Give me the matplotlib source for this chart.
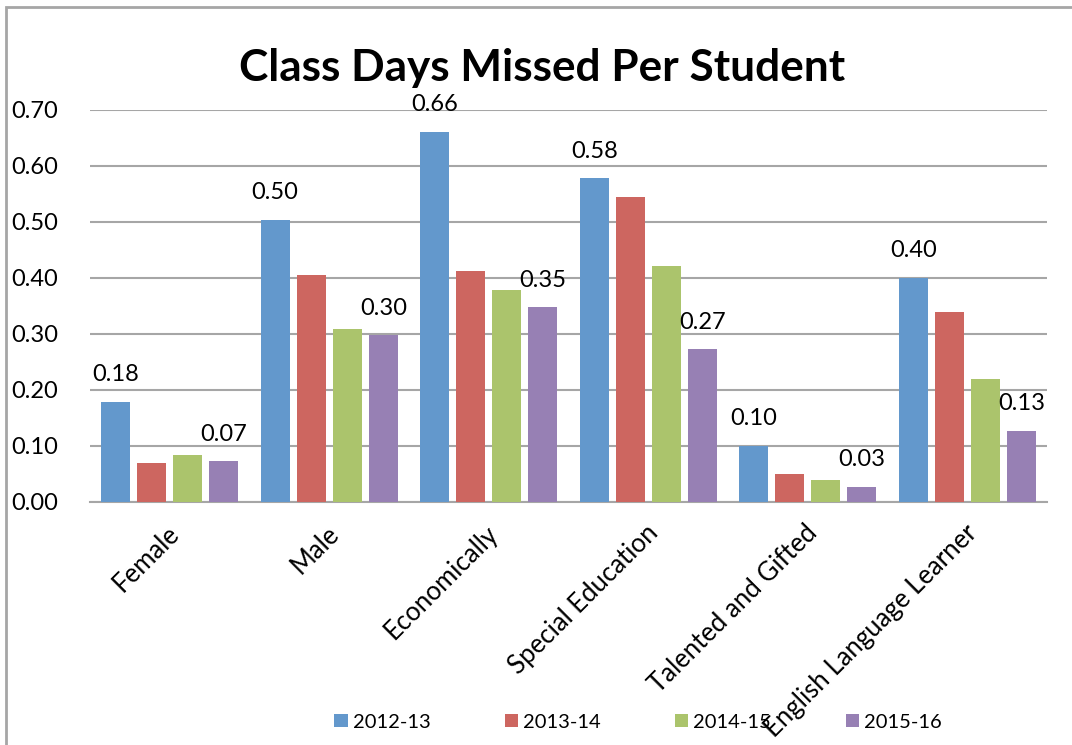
import matplotlib
matplotlib.use("Agg")
import matplotlib.pyplot as plt
import matplotlib.transforms as mtransforms
import numpy as np
from matplotlib.patches import Rectangle

categories = ["Female", "Male", "Economically", "Special Education",
              "Talented and Gifted", "English Language Learner"]
series_names = ["2012-13", "2013-14", "2014-15", "2015-16"]
v_2012_13 = [0.179, 0.504, 0.661, 0.578, 0.100, 0.400]
v_2013_14 = [0.070, 0.405, 0.413, 0.545, 0.050, 0.339]
v_2014_15 = [0.084, 0.309, 0.379, 0.421, 0.039, 0.220]
v_2015_16 = [0.073, 0.298, 0.348, 0.273, 0.027, 0.127]
yticks = [0.0, 0.1, 0.2, 0.3, 0.4, 0.5, 0.6, 0.7]

series = [v_2012_13, v_2013_14, v_2014_15, v_2015_16]
colors = ["#6398CC", "#CD6660", "#ABC46C", "#9780B4"]
labelled = [True, False, False, True]

plt.rcParams['font.family'] = ['Lato', 'DejaVu Sans']

fig = plt.figure(figsize=(10.72, 7.45), dpi=100)
ax = fig.add_axes([90/1072, 1-502/745, (1047-90)/1072, (502-110)/745])

x = np.arange(len(categories))
width = 0.18
pitch = 0.226
handles = []
for i, (vals, c) in enumerate(zip(series, colors)):
    pos = x + (i - 1.5) * pitch
    b = ax.bar(pos, vals, width, color=c, label=series_names[i], zorder=3)
    handles.append(b)
    if labelled[i]:
        for p, v in zip(pos, vals):
            ax.annotate(f"{v:.2f}", (p, v), xytext=(0, 19.5), textcoords="offset points",
                        ha="center", va="center", fontsize=17, color="black")

ax.set_xlim(-0.5, len(categories) - 0.5)
ax.set_ylim(0, 0.7)
ax.set_yticks(yticks)
ax.set_yticklabels([f"{t:.2f}" for t in yticks], fontsize=17)
ax.yaxis.grid(True, color="#A6A6A6", linewidth=1.5, zorder=0)
ax.set_axisbelow(True)
for s in ["left", "right", "top"]:
    ax.spines[s].set_visible(False)
ax.spines["bottom"].set_color("#A6A6A6")
ax.spines["bottom"].set_linewidth(1.5)
ax.tick_params(axis="y", length=0, pad=23)
ax.tick_params(axis="x", length=0, pad=4)
ax.set_xticks(x)
ax.set_xticklabels(categories, rotation=45, ha="right", rotation_mode="anchor", fontsize=18.5)
for lbl in ax.get_xticklabels():
    lbl.set_transform(lbl.get_transform() + mtransforms.ScaledTranslation(-3/100, -13/100, fig.dpi_scale_trans))

fig.text(542/1072, 1-68/745, "Class Days Missed Per Student", ha="center", va="center",
         fontsize=31.8, fontweight="bold")

fig.legend(handles=handles, labels=series_names, loc="center", ncol=4,
           bbox_to_anchor=(638/1072, 1-722/745), frameon=False, fontsize=14.5,
           handlelength=0.65, handleheight=0.65, handletextpad=0.25, columnspacing=3.7)

fig.patches.append(Rectangle((6/1072, -0.1), 1.2, 1 - 7/745 + 0.1, transform=fig.transFigure,
                             fill=False, edgecolor="#A6A6A6", linewidth=2, zorder=0))

fig.savefig("out.png", dpi=100)
